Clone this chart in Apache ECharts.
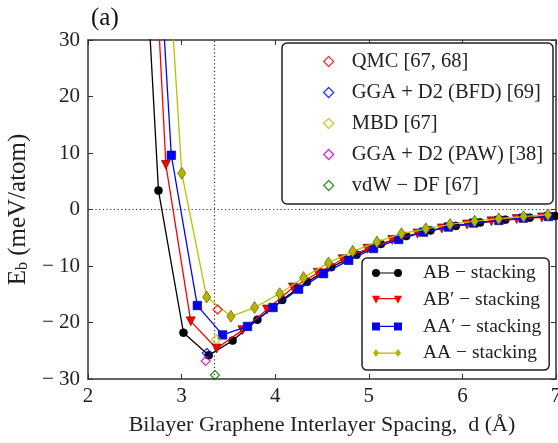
<!DOCTYPE html>
<html>
<head>
<meta charset="utf-8">
<script src="https://cdn.jsdelivr.net/npm/echarts@6/dist/echarts.min.js"></script>
<style>html,body{margin:0;padding:0;background:#fff}#c{width:558px;height:443px}</style>
</head>
<body>
<div id="c"></div>
<script>
// ---- data (d in Å, E_b in meV/atom) ----
var abX  = [2.49, 2.753, 3.02, 3.29, 3.545, 3.81, 4.075, 4.34, 4.60, 4.87, 5.13, 5.40, 5.66, 5.93, 6.19, 6.46, 6.72, 6.99];
var abY  = [83, 3.35, -21.8, -25.8, -23.2, -19.5, -16.0, -12.8, -10.2, -8.0, -6.1, -4.7, -3.7, -2.9, -2.3, -1.8, -1.45, -1.15];
var abpX = [2.57, 2.832, 3.098, 3.374, 3.65, 3.913, 4.19, 4.455, 4.72, 4.985, 5.25, 5.52, 5.78, 6.05, 6.31, 6.58, 6.85];
var abpY = [93, 7.9, -19.8, -24.6, -21.35, -17.7, -13.8, -11.2, -8.8, -6.95, -5.4, -4.25, -3.35, -2.65, -2.1, -1.7, -1.4];
var aapX = [2.625, 2.89, 3.168, 3.438, 3.704, 3.977, 4.25, 4.516, 4.785, 5.05, 5.32, 5.585, 5.85, 6.12, 6.39, 6.65, 6.92];
var aapY = [83.5, 9.6, -17.0, -22.2, -20.7, -17.35, -14.1, -11.35, -9.0, -6.9, -5.3, -4.0, -3.1, -2.4, -1.94, -1.53, -1.24];
var aaX  = [2.74, 3.002, 3.268, 3.527, 3.78, 4.048, 4.303, 4.569, 4.828, 5.087, 5.349, 5.609, 5.867, 6.13, 6.388, 6.654, 6.913];
var aaY  = [75.8, 6.4, -15.5, -18.9, -17.35, -14.9, -12.05, -9.45, -7.4, -5.77, -4.29, -3.41, -2.65, -2.07, -1.64, -1.24, -0.94];

var refNames = ['QMC [67, 68]', 'GGA + D2 (BFD) [69]', 'MBD [67]', 'GGA + D2 (PAW) [38]', 'vdW − DF [67]'];
var refX = [3.384, 3.27, 3.37, 3.257, 3.356];
var refY = [-17.7, -25.4, -23.0, -26.8, -29.3];
var refColors = ['#ff0000', '#0000ff', '#bfbf00', '#bf00bf', '#008000'];

var stackNames = ['AB − stacking', 'AB′ − stacking', 'AA′ − stacking', 'AA − stacking'];
var xTicks = [2, 7, 1];
var yTicks = [-30, 30, 10];
var eqSpacing = 3.35;

function pairs(xs, ys) { return xs.map(function (x, i) { return [x, ys[i]]; }); }

var serif = 'Liberation Serif';
var axisColor = '#333';

var icCircle = 'path://M0,4a4,4 0 1,1 8,0a4,4 0 1,1 -8,0ZM22,4a4,4 0 1,1 8,0a4,4 0 1,1 -8,0ZM4,3.4L26,3.4L26,4.6L4,4.6Z';
var icTri = 'path://M0,0L8,0L4,8ZM22,0L30,0L26,8ZM4,2.3L26,2.3L26,3.5L4,3.5Z';
var icSq = 'path://M0,0L8,0L8,8L0,8ZM22,0L30,0L30,8L22,8ZM4,3.4L26,3.4L26,4.6L4,4.6Z';
var icDia = 'path://M4,0L7,4L4,8L1,4ZM26,0L29,4L26,8L23,4ZM4,3.4L26,3.4L26,4.6L4,4.6Z';

var lineSeries = [
  {name: stackNames[0], x: abX, y: abY, color: '#000000', symbol: 'circle', size: 8, rot: 0, icon: icCircle, fill: '#000000', edge: '#000000'},
  {name: stackNames[1], x: abpX, y: abpY, color: '#ff0000', symbol: 'triangle', size: 9, rot: 180, icon: icTri, fill: '#ff0000', edge: '#600000'},
  {name: stackNames[2], x: aapX, y: aapY, color: '#0000ff', symbol: 'rect', size: 8.5, rot: 0, icon: icSq, fill: '#0000ff', edge: '#000060'},
  {name: stackNames[3], x: aaX, y: aaY, color: '#bfbf00', symbol: 'diamond', size: [8, 12], rot: 0, icon: icDia, fill: '#b5b500', edge: '#4a4a00'}
];

var series = [];
lineSeries.forEach(function (s, i) {
  var o = {
    type: 'line', name: s.name, data: pairs(s.x, s.y),
    symbol: s.symbol, symbolSize: s.size, symbolRotate: s.rot,
    showAllSymbol: true, clip: true, z: 2 + i,
    lineStyle: {color: s.color, width: 1.3},
    itemStyle: {color: s.fill, borderColor: s.edge, borderWidth: 0.6},
    silent: true
  };
  if (i === 0) {
    o.markLine = {
      silent: true, symbol: ['none', 'none'], label: {show: false},
      lineStyle: {type: [1.2, 2.5], color: '#333', width: 1.2},
      data: [{xAxis: eqSpacing}, {yAxis: 0}], z: 1
    };
  }
  series.push(o);
});
refNames.forEach(function (n, i) {
  series.push({
    type: 'scatter', name: n, data: [[refX[i], refY[i]]],
    symbol: 'diamond', symbolSize: 9, z: 10, silent: true,
    itemStyle: {color: 'rgba(255,255,255,0)', borderColor: refColors[i], borderWidth: 1.3}
  });
});

var chart = echarts.init(document.getElementById('c'), null, {renderer: 'canvas'});
var axBase = {
  type: 'value', min: xTicks[0], max: xTicks[1], interval: xTicks[2],
  axisLine: {show: true, onZero: false, lineStyle: {color: axisColor, width: 1.5}},
  axisTick: {show: true, inside: true, length: 5, lineStyle: {color: axisColor, width: 1}},
  splitLine: {show: false}
};
function clone(o) { return JSON.parse(JSON.stringify(o)); }
var xBottom = clone(axBase);
xBottom.position = 'bottom';
xBottom.axisLabel = {color: '#222', fontFamily: serif, fontSize: 21, margin: 7};
xBottom.name = 'Bilayer Graphene Interlayer Spacing,  d (Å)';
xBottom.nameLocation = 'middle';
xBottom.nameGap = 35;
xBottom.nameTextStyle = {color: '#222', fontFamily: serif, fontSize: 22};
var xTop = clone(axBase);
xTop.position = 'top';
xTop.axisLabel = {show: false};

var yLeft = clone(axBase);
yLeft.min = yTicks[0]; yLeft.max = yTicks[1]; yLeft.interval = yTicks[2];
yLeft.position = 'left';
yLeft.axisLabel = {color: '#222', fontFamily: serif, fontSize: 21, margin: 8,
  formatter: function (v) { return String(v).replace('-', '− '); }};
yLeft.name = '{e|E}{s|b}{e| (meV/atom)}';
yLeft.nameLocation = 'middle';
yLeft.nameGap = 45;
yLeft.nameTextStyle = {color: '#222', fontFamily: serif, fontSize: 25,
  rich: {e: {fontFamily: serif, fontSize: 25, color: '#222', lineHeight: 27},
         s: {fontFamily: serif, fontSize: 16, color: '#222', lineHeight: 27, padding: [10, 0, 0, 0]}}};
var yRight = clone(axBase);
yRight.min = yTicks[0]; yRight.max = yTicks[1]; yRight.interval = yTicks[2];
yRight.position = 'right';
yRight.axisLabel = {show: false};

var legendTop = {
  orient: 'vertical', left: 282, top: 43, selectedMode: false,
  padding: [8, 10, 8, 41], itemGap: 10, itemWidth: 10, itemHeight: 10,
  backgroundColor: '#fff', borderColor: '#222', borderWidth: 1.5, borderRadius: 5,
  textStyle: {fontFamily: serif, fontSize: 20.5, color: '#222', padding: [0, 0, 0, 13]},
  data: refNames.map(function (n, i) {
    return {name: n, icon: 'diamond', itemStyle: {color: '#fff', borderColor: refColors[i], borderWidth: 1.3}};
  })
};
var legendBottom = {
  orient: 'vertical', left: 362, top: 258, selectedMode: false,
  padding: [5, 8, 7, 10], itemGap: 6.7, itemWidth: 30, itemHeight: 8,
  backgroundColor: '#fff', borderColor: '#222', borderWidth: 1.5, borderRadius: 5,
  textStyle: {fontFamily: serif, fontSize: 19.5, color: '#222', padding: [0, 0, 0, 16]},
  data: lineSeries.map(function (s) {
    return {name: s.name, icon: s.icon, itemStyle: {color: s.fill, borderWidth: 0}};
  })
};

chart.setOption({
  animation: false,
  backgroundColor: '#fff',
  title: {text: '(a)', left: 86, top: 1, textStyle: {fontFamily: serif, fontSize: 25, fontWeight: 'normal', color: '#111'}},
  grid: {left: 88, right: 2, top: 40, bottom: 64, containLabel: false, outerBoundsMode: 'none'},
  xAxis: [xBottom, xTop],
  yAxis: [yLeft, yRight],
  legend: [legendTop, legendBottom],
  series: series
});
</script>
</body>
</html>
